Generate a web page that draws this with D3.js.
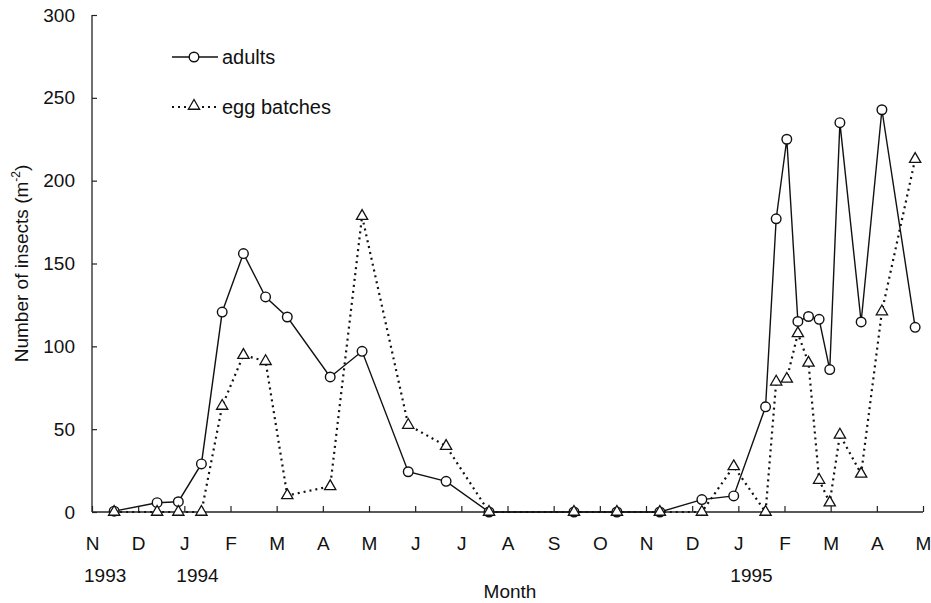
<!DOCTYPE html>
<html>
<head>
<meta charset="utf-8">
<script src="https://cdn.jsdelivr.net/npm/d3@7"></script>
<style>
  html, body { margin: 0; padding: 0; background: #fff; }
  svg { display: block; }
  text { font-family: "Liberation Sans", Arial, Helvetica, sans-serif; fill: #111; }
</style>
</head>
<body>
<svg id="chart" width="931" height="603"></svg>
<script>
// ---- data ----
const monthLabels = ["N","D","J","F","M","A","M","J","J","A","S","O","N","D","J","F","M","A","M"];
const yearTickMonths = [0, 2, 14];
const yearNames = ["1993", "1994", "1995"];
const yTicks = [0, 50, 100, 150, 200, 250, 300];
// sampling dates, in months since 1 Nov 1993
const sampleMonths = [0.48,1.41,1.87,2.37,2.82,3.28,3.76,4.23,5.16,5.85,6.85,7.67,8.60,10.44,11.37,12.30,13.21,13.90,14.59,14.82,15.05,15.29,15.52,15.75,15.98,16.20,16.66,17.11,17.83];
const adults = [0.5,5.6,6.2,29,120.7,156,129.8,117.7,81.5,97,24.3,18.5,0,0,0,0,7.5,9.7,63.5,177,225,115,118,116.3,86,235,114.7,242.8,111.5];
const eggBatches = [0,0,0,0,64,94.7,91,10,15.5,178.6,52.5,39.8,0,0,0,0,0,27.5,0,78.6,80.3,107.8,90,19.3,5.7,46.6,23,121,213];

const svg = d3.select("#chart");
const x = d3.scaleLinear().domain([0, 18]).range([92, 923]);
const y = d3.scaleLinear().domain([0, 300]).range([512, 15]);

const FS = 19;

// y axis
const yAxis = svg.append("g").attr("transform", `translate(${x(0)},0)`)
  .call(d3.axisLeft(y).tickValues(yTicks).tickFormat(d3.format("d")).tickSize(-5).tickPadding(17));
yAxis.select(".domain").attr("d", `M0,${y(300)}V${y(0)}`);
yAxis.selectAll("line").attr("stroke", "#222").attr("stroke-width", 1.2);
yAxis.select(".domain").attr("stroke", "#222").attr("stroke-width", 1.3);
yAxis.selectAll("text").attr("font-size", FS).style("font-family", "Liberation Sans, Arial, sans-serif").attr("fill", "#111");

// x axis
const xAxis = svg.append("g").attr("transform", `translate(0,${y(0)})`)
  .call(d3.axisBottom(x).tickValues(d3.range(0, 19)).tickFormat(i => monthLabels[i]).tickSize(-6).tickPadding(25));
xAxis.select(".domain").attr("d", `M${x(0)},0H${x(18)}`).attr("stroke", "#222").attr("stroke-width", 1.3);
xAxis.selectAll("line").attr("stroke", "#222").attr("stroke-width", 1.2);
xAxis.selectAll("text").attr("font-size", FS).style("font-family", "Liberation Sans, Arial, sans-serif").attr("fill", "#111");

// year labels
svg.append("g").selectAll("text").data(yearTickMonths).join("text")
  .attr("x", d => x(d) - 8).attr("y", 582)
  .attr("font-size", FS)
  .text((d, i) => yearNames[i]);

// axis titles
svg.append("text").attr("x", 510).attr("y", 598).attr("text-anchor", "middle")
  .attr("font-size", FS).text("Month");

const yt = svg.append("text")
  .attr("transform", `translate(28,${(y(0) + y(300)) / 2}) rotate(-90)`)
  .attr("text-anchor", "middle").attr("font-size", FS);
yt.append("tspan").text("Number of insects (m");
yt.append("tspan").attr("font-size", 12).attr("dy", -8).text("-2");
yt.append("tspan").attr("dy", 8).text(")");

// series
const pts = (vals) => sampleMonths.map((m, i) => [m, vals[i]]);
const line = d3.line().x(d => x(d[0])).y(d => y(d[1]));

svg.append("path").datum(pts(eggBatches)).attr("d", line)
  .attr("fill", "none").attr("stroke", "#111").attr("stroke-width", 2.2)
  .attr("stroke-dasharray", "2,4");
svg.append("path").datum(pts(adults)).attr("d", line)
  .attr("fill", "none").attr("stroke", "#111").attr("stroke-width", 1.4);

const tri = d3.symbol().type(d3.symbolTriangle).size(55);

svg.append("g").selectAll("circle").data(pts(adults)).join("circle")
  .attr("cx", d => x(d[0])).attr("cy", d => y(d[1])).attr("r", 4.8)
  .attr("fill", "#fff").attr("stroke", "#111").attr("stroke-width", 1.4);

svg.append("g").selectAll("path").data(pts(eggBatches)).join("path")
  .attr("transform", d => `translate(${x(d[0])},${y(d[1])})`)
  .attr("d", tri).attr("fill", "#fff").attr("stroke", "#111").attr("stroke-width", 1.3);

// legend
const LFS = 20;
const lg = svg.append("g");
lg.append("line").attr("x1", 172).attr("x2", 218).attr("y1", 57).attr("y2", 57)
  .attr("stroke", "#111").attr("stroke-width", 1.4);
lg.append("circle").attr("cx", 194).attr("cy", 57).attr("r", 4.8)
  .attr("fill", "#fff").attr("stroke", "#111").attr("stroke-width", 1.4);
lg.append("text").attr("x", 222).attr("y", 64).attr("font-size", LFS).text("adults");

lg.append("line").attr("x1", 172).attr("x2", 218).attr("y1", 107).attr("y2", 107)
  .attr("stroke", "#111").attr("stroke-width", 2.2).attr("stroke-dasharray", "2,4");
lg.append("path").attr("transform", "translate(194,106)").attr("d", tri)
  .attr("fill", "#fff").attr("stroke", "#111").attr("stroke-width", 1.3);
lg.append("text").attr("x", 222).attr("y", 114).attr("font-size", LFS).text("egg batches");
</script>
</body>
</html>
